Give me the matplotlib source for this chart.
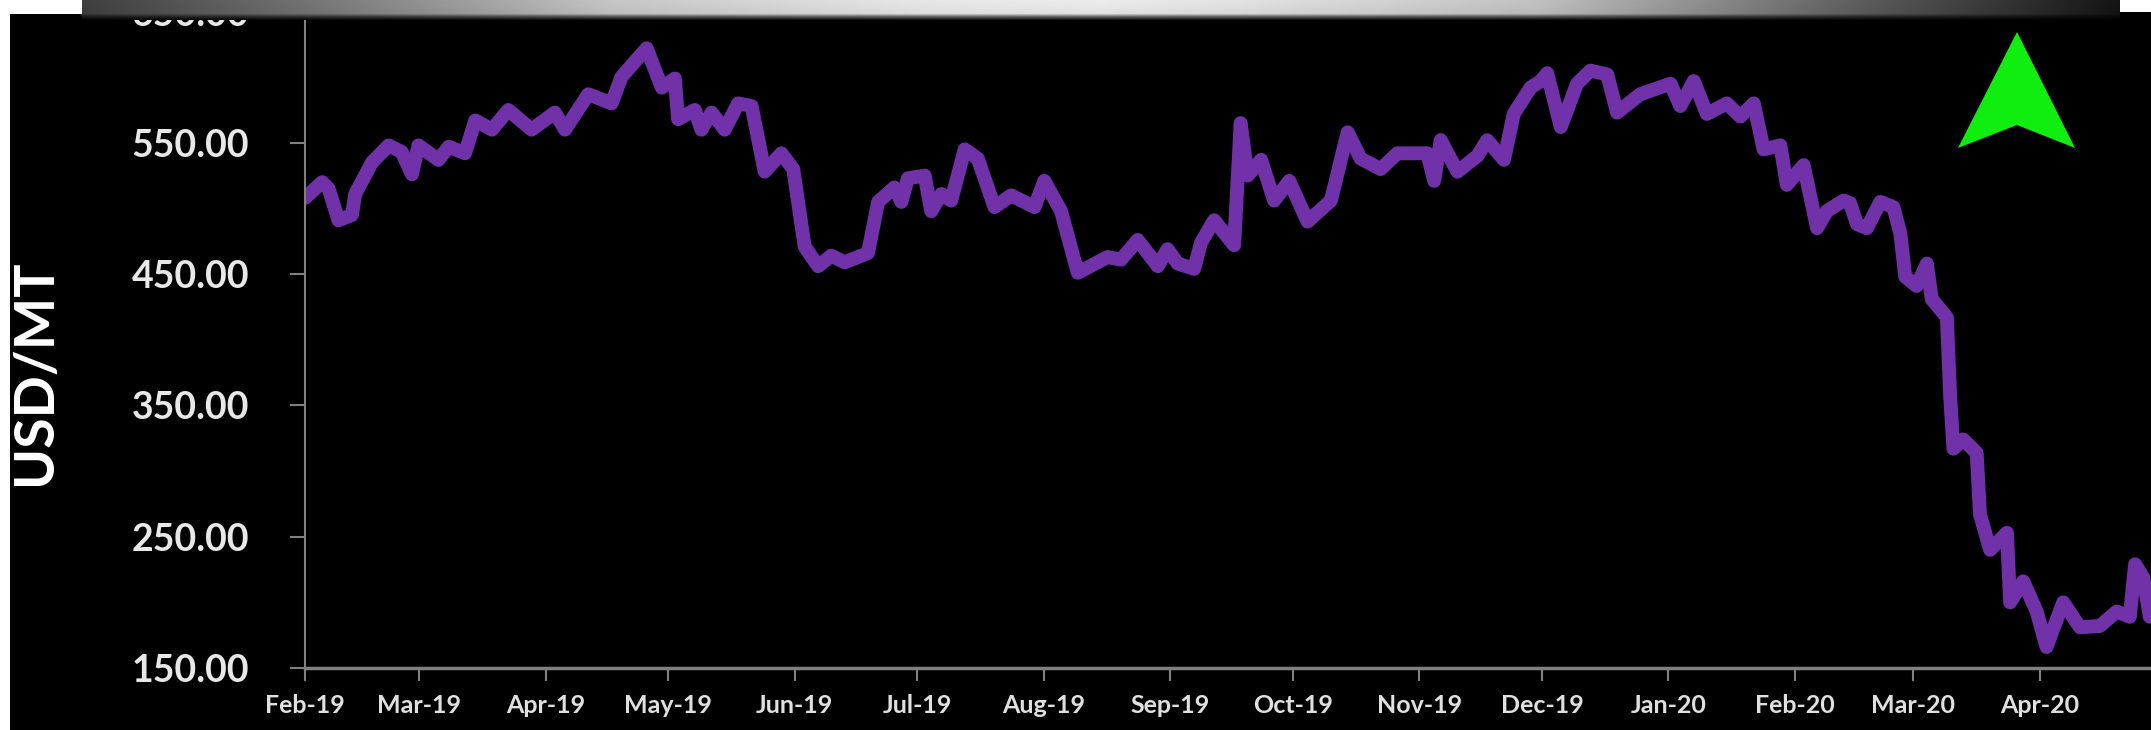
import matplotlib
matplotlib.use('Agg')
import matplotlib.pyplot as plt
import matplotlib.dates as mdates
import numpy as np
import pandas as pd
from matplotlib.patches import Rectangle, Polygon

# --- dati: giorni dal 1 feb 2019 e prezzo USD/MT ---
data_inizio = pd.Timestamp('2019-02-01')
giorni = [0, 4.2, 5.8, 8.2, 11.5, 12.3, 16.4, 20.5, 23.7, 26.2, 27.8, 32.7, 35.2, 39.2,
          41.7, 45.8, 49.8, 55.5, 61.2, 63.7, 69.4, 75.1, 77.5, 80.0, 83.7, 87.4, 90.6,
          91.4, 95.5, 97.1, 99.6, 102.8, 106.1, 109.4, 112.6, 116.7, 119.6, 122.4, 125.7,
          128.9, 132.2, 137.9, 140.4, 144.4, 146.1, 147.7, 151.8, 153.4, 155.9, 158.3,
          161.6, 164.8, 168.9, 173.0, 178.7, 181.1, 185.2, 189.3, 196.6, 199.9, 204.0,
          208.9, 211.3, 213.8, 217.8, 219.5, 222.7, 227.6, 229.2, 230.9, 234.2, 237.4,
          241.1, 245.6, 251.3, 255.4, 258.6, 263.5, 267.6, 274.9, 276.6, 278.2, 282.3,
          287.2, 289.6, 293.7, 296.1, 300.2, 302.7, 304.3, 307.6, 311.6, 314.9, 319.0,
          321.4, 327.1, 334.5, 336.9, 340.2, 343.4, 348.3, 351.6, 354.9, 357.3, 361.4,
          363.0, 367.1, 370.4, 372.8, 376.9, 378.5, 380.2, 382.6, 385.9, 389.1, 390.8,
          392.0, 394.8, 397.3, 398.5, 402.2, 403.0, 403.8, 406.2, 409.5, 410.3, 412.8,
          416.9, 417.7, 420.9, 424.2, 426.6, 430.7, 434.8, 439.7, 443.8, 447.0, 448.3,
          450.3, 451.9]
prezzi = [508, 520, 515, 491, 495, 511, 535, 548, 543, 526, 548, 537, 547, 542,
          567, 560, 575, 560, 573, 560, 587, 580, 600, 609, 622, 592, 599,
          568, 575, 560, 573, 560, 580, 578, 528, 542, 530, 471, 456,
          464, 459, 466, 505, 516, 505, 523, 525, 498, 511, 506,
          545, 538, 501, 510, 501, 521, 498, 451, 463, 461, 476,
          456, 469, 458, 454, 474, 491, 472, 565, 525, 537, 506,
          521, 490, 506, 558, 538, 530, 542, 542, 521, 552, 528,
          540, 552, 537, 572, 592, 597, 603, 562, 595, 605, 602,
          573, 587, 595, 578, 597, 572, 580, 570, 580, 545, 548,
          518, 533, 485, 498, 506, 504, 488, 485, 505, 501, 481,
          448, 441, 458, 431, 417, 357, 317, 324, 314, 267, 240,
          253, 200, 216, 193, 166, 200, 181, 182, 193, 189, 229,
          219, 189]
tick_y = [150, 250, 350, 450, 550, 650]

date = data_inizio + pd.to_timedelta(giorni, unit='D')

W, H = 2151, 730
plt.rcParams['font.family'] = ['Lato', 'DejaVu Sans']
plt.rcParams['font.weight'] = 'bold'

fig = plt.figure(figsize=(W / 100, H / 100), dpi=100, facecolor='white')

def fx(px):
    return px / W

def fy(py):
    return 1 - py / H

# sfondo nero (bordo bianco a sinistra e in alto)
fig.patches.append(Rectangle((fx(10), 0), 1 - fx(10), fy(14), transform=fig.transFigure,
                             facecolor='black', edgecolor='none', zorder=-5))

ax = fig.add_axes([fx(305), fy(668), 1 - fx(305), (668 - 11.5) / H])
ax.set_facecolor('black')
ax.plot(date, prezzi, color='#7131a8', lw=10, solid_joinstyle='round', solid_capstyle='round')

ax.set_xlim(data_inizio, data_inizio + pd.Timedelta(days=452.2))
ax.set_ylim(150, 650)
ax.set_yticks(tick_y)
ax.yaxis.set_major_formatter(matplotlib.ticker.FormatStrFormatter('%.2f'))
ax.xaxis.set_major_locator(mdates.MonthLocator())
ax.xaxis.set_major_formatter(mdates.DateFormatter('%b-%y'))

for s in ['top', 'right']:
    ax.spines[s].set_visible(False)
ax.spines['left'].set_color('#808080')
ax.spines['left'].set_linewidth(1.5)
ax.spines['bottom'].set_color('#808080')
ax.spines['bottom'].set_linewidth(2.5)

ax.tick_params(axis='y', length=11, width=1.5, color='#808080', pad=29,
               labelsize=27, labelcolor='#e8e8e8')
ax.tick_params(axis='x', length=9, width=1.5, color='#808080', pad=10,
               labelsize=18, labelcolor='#e0e0e0')

fig.text(fx(35), fy(372), 'USD/MT', rotation=90, fontsize=40, fontweight='bold',
         color='white', ha='center', va='center')

# barra sfumata in alto
bar_ax = fig.add_axes([fx(82), fy(20), fx(2120 - 82), 20 / H])
bar_ax.axis('off')
xs = np.linspace(82, 2120, 600)
profilo = np.interp(xs, [82, 300, 610, 920, 1100, 1240, 1540, 1850, 2120],
                    [0.25, 0.45, 0.78, 0.91, 0.93, 0.89, 0.76, 0.38, 0.08])
vfac = np.interp(np.arange(20), [0, 13, 16, 19], [1.0, 0.95, 0.45, 0.1])
bar_ax.imshow(profilo[None, :] * vfac[:, None], cmap='gray', vmin=0, vmax=1,
              aspect='auto', interpolation='bilinear')

# freccia verde
punti = [(2017, 32), (1958, 148), (2017, 125), (2075, 148)]
fig.patches.append(Polygon([(fx(x), fy(y)) for x, y in punti], closed=True,
                           transform=fig.transFigure, facecolor='#10ee10',
                           edgecolor='none', zorder=5))

fig.savefig('out.png', dpi=100, facecolor=fig.get_facecolor())
